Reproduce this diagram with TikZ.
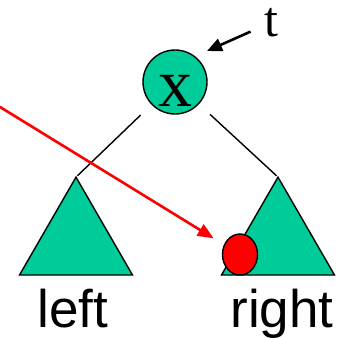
\documentclass[tikz,border=0pt]{standalone}
\usepackage{fontspec}
\setmainfont{Liberation Serif}
\newfontfamily\arialfont{Liberation Sans}
\usetikzlibrary{shapes.geometric,arrows.meta}
\definecolor{nodegreen}{RGB}{0,204,153}

\begin{document}
\begin{tikzpicture}[x=1pt,y=-1pt,line width=1.4pt,
  vert/.style={circle,draw,fill=nodegreen,minimum size=64pt,inner sep=0pt,font=\fontsize{68}{68}\selectfont,text height=48pt,text depth=0pt},
  subtree/.style={regular polygon,regular polygon sides=3,draw,fill=nodegreen,minimum size=130.5pt,inner sep=0pt,outer sep=0pt},
  lab/.style={font=\arialfont\fontsize{53}{53}\selectfont,anchor=base,inner sep=0pt},
  hole/.style={ellipse,draw,fill=red,minimum width=35pt,minimum height=41pt,inner sep=0pt}]
\useasboundingbox (0,0) rectangle (347,337);
\node[vert] (x) at (175,82) {x};
\node[font=\fontsize{50}{50}\selectfont,inner sep=0pt] (t) at (271,22.5) {t};
\coordinate (tip) at (207,51);
\draw[line width=2.6pt,shorten <=14pt,-{Triangle[length=15pt,width=13pt]}] (t) -- (tip);
\foreach \n/\xx/\lx in {left/76/73,right/278/282} {\node[subtree] (\n) at (\xx,242.4) {};\node[lab] (\n lab) at (\lx,327) {\n};}
\foreach \n in {left,right} {\draw[shorten <=15pt,shorten >=2pt] (x) -- (\n.corner 1);}
\node[hole] (hole) at (240,254.5) {};
\coordinate (from) at (-6,103.3);
\draw[red,line width=2.6pt,shorten >=12pt,-{Triangle[length=16pt,width=13pt]}] (from) -- (hole);
\end{tikzpicture}
\end{document}
